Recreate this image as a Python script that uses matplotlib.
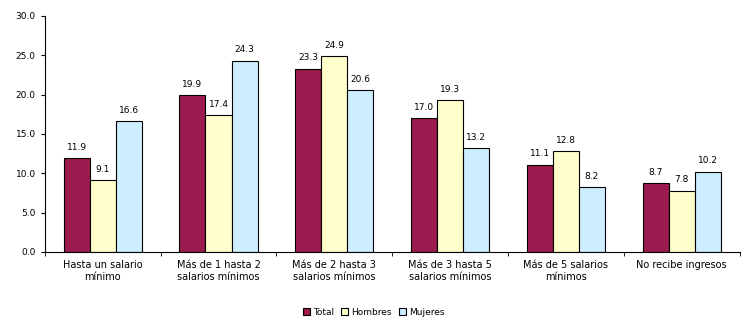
import matplotlib.pyplot as plt
import numpy as np

categories = ['Hasta un salario\nmínimo', 'Más de 1 hasta 2\nsalarios mínimos',
              'Más de 2 hasta 3\nsalarios mínimos', 'Más de 3 hasta 5\nsalarios mínimos',
              'Más de 5 salarios\nmínimos', 'No recibe ingresos']
total = [11.9, 19.9, 23.3, 17.0, 11.1, 8.7]
hombres = [9.1, 17.4, 24.9, 19.3, 12.8, 7.8]
mujeres = [16.6, 24.3, 20.6, 13.2, 8.2, 10.2]

series = [('Total', total, '#9b1b4f'),
          ('Hombres', hombres, '#ffffcc'),
          ('Mujeres', mujeres, '#cceeff')]

fig = plt.figure(figsize=(7.47, 3.25), dpi=100)
ax = fig.add_axes([0.06, 0.225, 0.93, 0.726])

x = np.arange(len(categories))
w = 0.225
for i, (name, vals, col) in enumerate(series):
    pos = x + (i - 1) * w
    bars = ax.bar(pos, vals, w, color=col, edgecolor='black', linewidth=0.8, label=name)
    for p, v in zip(pos, vals):
        ax.text(p, v + 0.8, f'{v:.1f}', ha='center', va='bottom', fontsize=6.5)

ax.set_xlim(-0.5, len(categories) - 0.5)
ax.set_ylim(0, 30)
ax.set_yticks(np.arange(0, 31, 5))
ax.set_yticklabels([f'{t:.1f}' for t in np.arange(0, 31, 5)], fontsize=6.5)
ax.set_xticks(x)
ax.set_xticklabels(categories, fontsize=7)
ax.tick_params(axis='x', length=0, pad=6)
ax.tick_params(axis='y', length=3)
# separators between categories
ax.set_xticks(np.arange(-0.5, len(categories)), minor=True)
ax.tick_params(axis='x', which='minor', length=3)
for s in ['top', 'right']:
    ax.spines[s].set_visible(False)

fig.legend(loc='lower center', bbox_to_anchor=(0.5, 0.0), ncol=3, fontsize=6.5,
           frameon=False, handlelength=0.8, handleheight=0.8, handletextpad=0.3,
           columnspacing=0.8)

fig.savefig('out.png', dpi=100)
